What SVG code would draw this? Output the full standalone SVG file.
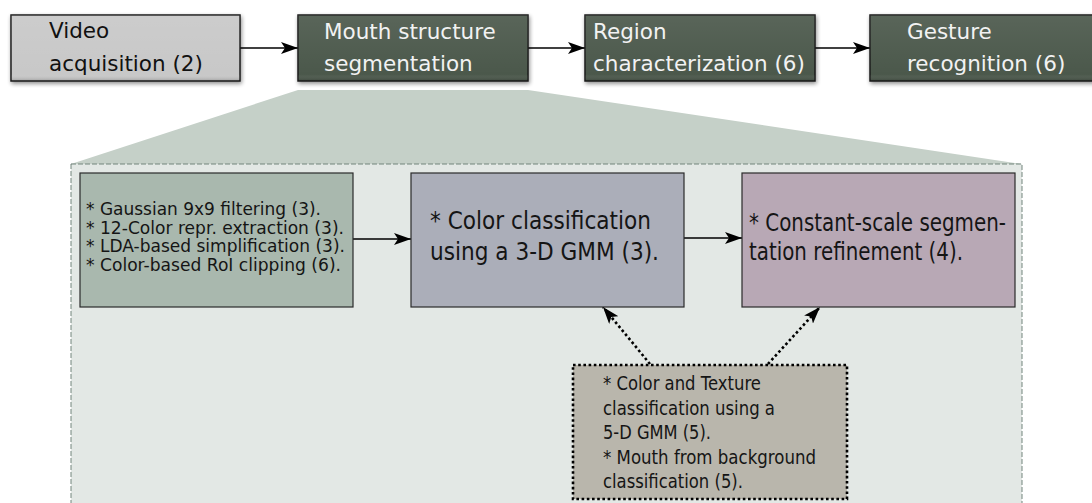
<svg xmlns="http://www.w3.org/2000/svg" width="1092" height="503" viewBox="0 0 1092 503">
<style>
.top{font-family:"DejaVu Sans","Liberation Sans",sans-serif;font-size:21.5px}
.inner{font-family:"DejaVu Sans","Liberation Sans",sans-serif;fill:#151515}
.tb{stroke:#1c1c1c;stroke-width:1.5}
.conn{stroke:#000;stroke-width:1.5;fill:none}
.dot{stroke:#000;stroke-width:2.6;fill:none;stroke-dasharray:2.6 2.6}
.ib{stroke:#2a2a2a;stroke-width:1.2}
</style>
<defs>
<marker id="ah" markerUnits="userSpaceOnUse" markerWidth="18" markerHeight="12" refX="17" refY="6" orient="auto" viewBox="0 0 18 12">
<path d="M0,0 L17,6 L0,12 L4,6 Z" fill="#000"/>
</marker>
<filter id="sh" x="-10%" y="-20%" width="120%" height="150%">
<feGaussianBlur in="SourceAlpha" stdDeviation="2.2"/>
<feOffset dx="1" dy="2" result="b"/>
<feComponentTransfer><feFuncA type="linear" slope="0.45"/></feComponentTransfer>
<feMerge><feMergeNode/><feMergeNode in="SourceGraphic"/></feMerge>
</filter>
<radialGradient id="hl" cx="0" cy="0" r="1" gradientUnits="userSpaceOnUse" gradientTransform="translate(2,2) scale(14)">
<stop offset="0" stop-color="#fff" stop-opacity="0.8"/>
<stop offset="1" stop-color="#fff" stop-opacity="0"/>
</radialGradient>
<linearGradient id="vg" x1="0" y1="0" x2="0" y2="1">
<stop offset="0" stop-color="#fff" stop-opacity="0.08"/>
<stop offset="0.9" stop-color="#fff" stop-opacity="0"/>
<stop offset="1" stop-color="#000" stop-opacity="0.2"/>
</linearGradient>
</defs>

<g id="zoom-region">
<polygon points="298,90 528,90 1022,164 71,164" fill="#c5d0c8"/>
<rect x="71" y="164" width="951" height="350" fill="#e3e8e5" stroke="#72857d" stroke-width="1" stroke-dasharray="5 2"/>
</g>

<g id="connectors">
<line class="conn" x1="240" y1="48" x2="298" y2="48" marker-end="url(#ah)"/>
<line class="conn" x1="528" y1="48" x2="585" y2="48" marker-end="url(#ah)"/>
<line class="conn" x1="815" y1="48" x2="870" y2="48" marker-end="url(#ah)"/>
<line class="conn" x1="353" y1="239" x2="411" y2="239" marker-end="url(#ah)"/>
<line class="conn" x1="684" y1="238" x2="742" y2="238" marker-end="url(#ah)"/>
<line class="dot" x1="650" y1="364" x2="603" y2="307" marker-end="url(#ah)"/>
<line class="dot" x1="768" y1="364" x2="820" y2="307" marker-end="url(#ah)"/>
</g>

<g id="video-acquisition">
<rect class="tb" x="11" y="15" width="229" height="66" fill="#c8c8c8" filter="url(#sh)"/>
<rect x="11" y="15" width="229" height="66" fill="url(#vg)"/>
<rect x="11" y="15" width="16" height="16" fill="url(#hl)"/>
<text class="top" fill="#111" x="49" y="38">Video</text>
<text class="top" fill="#111" x="49" y="71">acquisition (2)</text>
</g>

<g id="mouth-structure-segmentation">
<rect class="tb" x="298" y="15" width="230" height="66" fill="#4b594b" filter="url(#sh)"/>
<rect x="298" y="15" width="230" height="66" fill="url(#vg)"/>
<text class="top" fill="#f2f2f2" x="324" y="39">Mouth structure</text>
<text class="top" fill="#f2f2f2" x="324" y="71">segmentation</text>
</g>

<g id="region-characterization">
<rect class="tb" x="585" y="15" width="230" height="66" fill="#4b594b" filter="url(#sh)"/>
<rect x="585" y="15" width="230" height="66" fill="url(#vg)"/>
<text class="top" fill="#f2f2f2" x="593" y="39">Region</text>
<text class="top" fill="#f2f2f2" x="593" y="71">characterization (6)</text>
</g>

<g id="gesture-recognition">
<rect class="tb" x="870" y="15" width="230" height="66" fill="#4b594b" filter="url(#sh)"/>
<rect x="870" y="15" width="230" height="66" fill="url(#vg)"/>
<text class="top" fill="#f2f2f2" x="907" y="39">Gesture</text>
<text class="top" fill="#f2f2f2" x="907" y="71">recognition (6)</text>
</g>

<g id="preprocessing">
<rect class="ib" x="80" y="173" width="273" height="134" fill="#a9b8ae"/>
<text class="inner" font-size="17" x="86" y="215" textLength="235" lengthAdjust="spacingAndGlyphs">* Gaussian 9x9 filtering (3).</text>
<text class="inner" font-size="17" x="86" y="233.5" textLength="258" lengthAdjust="spacingAndGlyphs">* 12-Color repr. extraction (3).</text>
<text class="inner" font-size="17" x="86" y="252" textLength="259" lengthAdjust="spacingAndGlyphs">* LDA-based simplification (3).</text>
<text class="inner" font-size="17" x="86" y="270.5" textLength="255" lengthAdjust="spacingAndGlyphs">* Color-based RoI clipping (6).</text>
</g>

<g id="color-classification">
<rect class="ib" x="411" y="173" width="273" height="134" fill="#abaeb9"/>
<text class="inner" font-size="25" x="430" y="229" textLength="221" lengthAdjust="spacingAndGlyphs">* Color classification</text>
<text class="inner" font-size="25" x="430" y="260" textLength="229" lengthAdjust="spacingAndGlyphs">using a 3-D GMM (3).</text>
</g>

<g id="segmentation-refinement">
<rect class="ib" x="742" y="173" width="273" height="134" fill="#b8a8b5"/>
<text class="inner" font-size="25" x="749" y="231" textLength="257" lengthAdjust="spacingAndGlyphs">* Constant-scale segmen-</text>
<text class="inner" font-size="25" x="749" y="260" textLength="214" lengthAdjust="spacingAndGlyphs">tation refinement (4).</text>
</g>

<g id="texture-classification">
<rect x="573" y="365" width="274" height="134" fill="#b9b6ac" stroke="#000" stroke-width="2.6" stroke-dasharray="2.6 2.6"/>
<text class="inner" font-size="19" x="603" y="390" textLength="158" lengthAdjust="spacingAndGlyphs">* Color and Texture</text>
<text class="inner" font-size="19" x="603" y="414.5" textLength="172" lengthAdjust="spacingAndGlyphs">classification using a</text>
<text class="inner" font-size="19" x="603" y="439" textLength="108" lengthAdjust="spacingAndGlyphs">5-D GMM (5).</text>
<text class="inner" font-size="19" x="603" y="463.5" textLength="213" lengthAdjust="spacingAndGlyphs">* Mouth from background</text>
<text class="inner" font-size="19" x="603" y="488" textLength="140" lengthAdjust="spacingAndGlyphs">classification (5).</text>
</g>
</svg>
